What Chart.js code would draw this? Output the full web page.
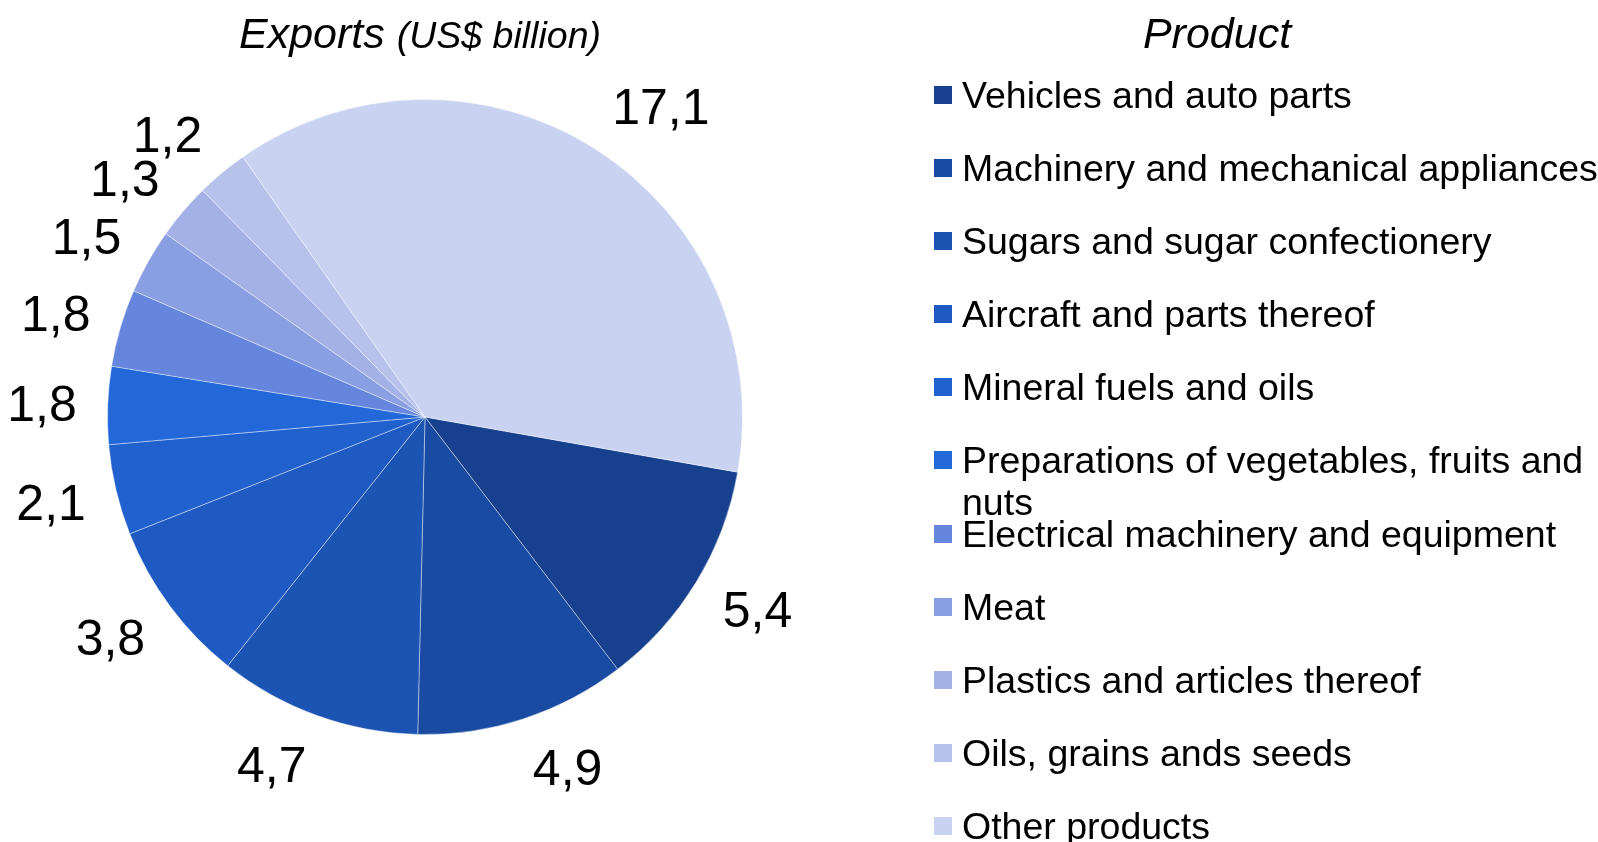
<!DOCTYPE html>
<html>
<head>
<meta charset="utf-8">
<script src="https://cdn.jsdelivr.net/npm/chart.js@4/dist/chart.umd.min.js"></script>
<style>
  body {
    margin: 0;
    width: 1598px;
    height: 842px;
    overflow: hidden;
    background: #ffffff;
    font-family: 'Liberation Sans', Arial, sans-serif;
    color: #000000;
  }
  #pieChart {
    position: absolute;
    left: 0;
    top: 0;
  }
  .heading {
    position: absolute;
    font-style: italic;
    white-space: nowrap;
    transform: translate(-50%, -50%);
  }
  #chartTitle {
    left: 420px;
    top: 33px;
    font-size: 43px;
  }
  #chartTitle small {
    font-size: 37.5px;
  }
  #legendTitle {
    left: 1217px;
    top: 33px;
    font-size: 43px;
  }
  #legend {
    position: absolute;
    left: 934px;
    top: 59px;
    margin: 0;
    padding: 0;
    list-style: none;
  }
  #legend li {
    position: relative;
    height: 73.1px;
  }
  #legend .box {
    position: absolute;
    left: 0;
    top: 27px;
    width: 18px;
    height: 18px;
  }
  #legend .txt {
    position: absolute;
    left: 28px;
    top: 15px;
    width: 650px;
    font-size: 37.5px;
    line-height: 42px;
  }
</style>
</head>
<body>
<canvas id="pieChart" width="1598" height="842"></canvas>
<div id="chartTitle" class="heading">Exports <small>(US$ billion)</small></div>
<div id="legendTitle" class="heading">Product</div>
<ul id="legend"></ul>

<script>
// Produkter och exportvärden (US$ miljarder)
let products = [
  'Vehicles and auto parts',
  'Machinery and mechanical appliances',
  'Sugars and sugar confectionery',
  'Aircraft and parts thereof',
  'Mineral fuels and oils',
  'Preparations of vegetables, fruits and nuts',
  'Electrical machinery and equipment',
  'Meat',
  'Plastics and articles thereof',
  'Oils, grains ands seeds',
  'Other products',
]
let exportValues = [5.4, 4.9, 4.7, 3.8, 2.1, 1.8, 1.8, 1.5, 1.3, 1.2, 17.1]
let sliceColors = [
  '#17418f',
  '#1a4ba2',
  '#1c54b4',
  '#1e5ac2',
  '#2061cd',
  '#2268d9',
  '#6586dc',
  '#8a9ee2',
  '#a3b1e7',
  '#b7c2eb',
  '#c9d2f0',
]

// Etiketter utanför varje tårtbit
let outsideLabels = {
  id: 'outsideLabels',
  afterDatasetsDraw(chart) {
    let ctx = chart.ctx
    let meta = chart.getDatasetMeta(0)
    let values = chart.data.datasets[0].data
    ctx.save()
    ctx.font = '50px "Liberation Sans", Arial, sans-serif'
    ctx.fillStyle = '#000000'
    ctx.textAlign = 'center'
    ctx.textBaseline = 'alphabetic'
    meta.data.forEach((arc, i) => {
      let p = arc.getProps(['x', 'y', 'startAngle', 'endAngle', 'outerRadius'], true)
      let mid = (p.startAngle + p.endAngle) / 2
      let dx = Math.cos(mid)
      let dy = Math.sin(mid)
      let text = values[i].toFixed(1).replace('.', ',')
      let w = ctx.measureText(text).width
      let h = 40
      let dist = p.outerRadius + 31
      let x = p.x + dx * dist + Math.sign(dx) * w / 2
      let y = p.y + dy * dist + dy * h / 2
      ctx.fillText(text, x, y + 18)
    })
    ctx.restore()
  },
}

let pie = new Chart(document.getElementById('pieChart'), {
  type: 'pie',
  data: {
    labels: products,
    datasets: [
      {
        label: 'Exports',
        data: exportValues,
        backgroundColor: sliceColors,
        borderColor: 'rgba(255,255,255,0.4)',
        borderWidth: 1,
      },
    ],
  },
  options: {
    responsive: false,
    animation: false,
    rotation: 100,
    layout: {
      padding: { left: 107, right: 855, top: 99, bottom: 107 },
    },
    plugins: {
      legend: { display: false },
      tooltip: { enabled: false },
    },
  },
  plugins: [outsideLabels],
})

// Bygg legenden utifrån diagrammets data
function buildLegend() {
  let list = document.getElementById('legend')
  for (let i = 0; i < products.length; i++) {
    let item = document.createElement('li')
    let box = document.createElement('span')
    box.className = 'box'
    box.style.background = sliceColors[i]
    let txt = document.createElement('span')
    txt.className = 'txt'
    txt.textContent = products[i]
    item.appendChild(box)
    item.appendChild(txt)
    list.appendChild(item)
  }
}

buildLegend()
</script>
</body>
</html>
